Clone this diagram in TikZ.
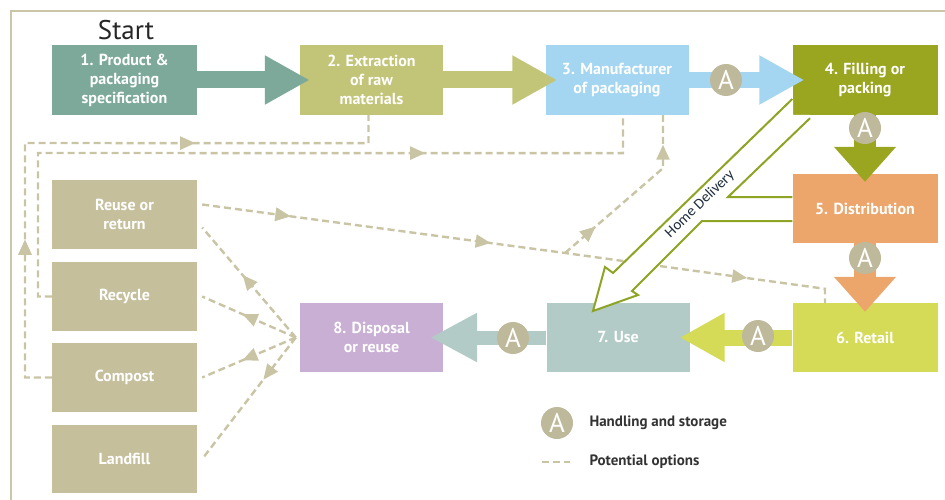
\documentclass[tikz,border=0pt]{standalone}
\usepackage{fontspec}
\setmainfont{PT Sans}
\newfontfamily\hdfont{Carlito}
\usetikzlibrary{arrows.meta,decorations.markings,calc}
\definecolor{cA}{HTML}{7DA99B}
\definecolor{cB}{HTML}{C2C477}
\definecolor{cC}{HTML}{A5D6F1}
\definecolor{cD}{HTML}{9AA520}
\definecolor{cE}{HTML}{ECA56B}
\definecolor{cF}{HTML}{D5DA57}
\definecolor{cG}{HTML}{B2CBC6}
\definecolor{cH}{HTML}{C8AFD3}
\definecolor{khaki}{HTML}{C5BF9C}
\definecolor{circ}{HTML}{BFB99B}
\definecolor{dashc}{HTML}{C9C4A4}
\definecolor{framec}{HTML}{CBC6A8}
\definecolor{hdgreen}{HTML}{8DA424}
\definecolor{hdtext}{HTML}{1F2D3D}
\definecolor{legtext}{HTML}{333333}
\begin{document}
\begin{tikzpicture}[x=1pt,y=-1pt,
  stagebox/.style={rectangle, minimum width=145pt, minimum height=70pt, inner sep=0pt,
    text=white, align=center, font=\bfseries\fontsize{16}{19}\selectfont},
  optbox/.style={stagebox, fill=khaki, minimum height=69pt},
  acirc/.style={circle, fill=circ, minimum size=32pt, inner sep=0pt, text=white,
    font=\fontsize{27}{27}\selectfont},
  fathor/.style={line width=17pt, -{Triangle[width=46pt,length=45pt]}},
  fatver/.style={line width=22pt, -{Triangle[width=60pt,length=35pt]}},
  dashline/.style={draw=dashc, line width=2.4pt, dash pattern=on 7pt off 4pt},
  mtip/.style={postaction={decorate}, decoration={markings,
    mark=at position #1 with {\arrow[dashc]{Triangle[length=15pt,width=13pt]}}}},
  hdline/.style={draw=hdgreen, line width=2pt, line join=miter},
  legtxt/.style={anchor=west, text=legtext, font=\bfseries\fontsize{15}{17}\selectfont},
]
\path[use as bounding box] (0,0) rectangle (945,500);
% frame
\draw[framec, line width=1.3pt] (11,500) -- (11,11) -- (945,11);
\node[font=\fontsize{27}{27}\selectfont, text=black!85] (start) at (126,30) {Start};

% boxes
\node[stagebox, fill=cA] (p1) at (124.5,80) {1. Product \&\\packaging\\specification};
\node[stagebox, fill=cB, minimum width=143pt] (p2) at (371.5,80) {2. Extraction\\of raw\\materials};
\node[stagebox, fill=cC, minimum width=143pt] (p3) at (617,80) {3. Manufacturer\\of packaging};
\node[stagebox, fill=cD] (p4) at (865,80) {4. Filling or\\packing};
\node[stagebox, fill=cE, minimum height=69pt] (p5) at (865,208.5) {5. Distribution};
\node[stagebox, fill=cF, minimum height=69pt] (p6) at (865,337.5) {6. Retail};
\node[stagebox, fill=cG, minimum width=143pt, minimum height=69pt] (p7) at (618,337.5) {7. Use};
\node[stagebox, fill=cH, minimum width=143pt, minimum height=69pt] (p8) at (371.5,337.5) {8. Disposal\\or reuse};
\node[optbox] (reuse) at (124.5,214.5) {Reuse or\\return};
\node[optbox] (recycle) at (124.5,296.5) {Recycle};
\node[optbox] (compost) at (124.5,377.5) {Compost};
\node[optbox, minimum height=68pt] (landfill) at (124.5,459) {Landfill};

% dashed potential options
\coordinate (hub) at ($(p8.west)+(-4,0)$);
\path[dashline, mtip=164.5pt, postaction={decorate, decoration={markings,
    mark=at position 431.5pt with {\arrow[dashc]{Triangle[length=15pt,width=13pt]}}}}]
  (compost.west) -- (25,377.5) -- (25,143) -- ($(p2.south)+(-3,28)$) -- ($(p2.south)+(-3,0)$);
\path[dashline, mtip=544.5pt]
  (recycle.west) -- (38,296.5) -- (38,153) -- ($(p3.south)+(6,38)$) -- ($(p3.south)+(6,0)$);
\coordinate (br) at (565,253);
\path[dashline, mtip=89pt, postaction={decorate, decoration={markings,
    mark=at position 291pt with {\arrow[dashc]{Triangle[length=15pt,width=13pt]}},
    mark=at position 550pt with {\arrow[dashc]{Triangle[length=15pt,width=13pt]}}}}]
  ($(reuse.east)+(5,-10)$) -- (br) -- ($(p6.north)+(-40,-14)$) -- ($(p6.north)+(-40,0)$);
\path[dashline, mtip=40pt, postaction={decorate, decoration={markings,
    mark=at position 153pt with {\arrow[dashc]{Triangle[length=15pt,width=13pt]}}}}]
  (br) -- ($(p3.south)+(46,53)$) -- ($(p3.south)+(46,0)$);
\path[dashline, mtip=82pt] (hub) -- ($(reuse.east)+(5,13)$);
\path[dashline, mtip=58pt] (hub) -- ($(recycle.east)+(5,0)$);
\path[dashline, mtip=58pt] (hub) -- ($(compost.east)+(5,0)$);
\path[dashline, mtip=53pt] (hub) -- ($(landfill.east)+(5,0)$);

% home delivery arrow
\fill[white] (793,99) -- (613,273) -- (605,267) -- (593,311) -- (638,295) -- (632,291)
  -- (702,221) -- (793,221) -- (793,197) -- (728,197) -- (810,115) -- (793,115) -- cycle;
\draw[hdline] ($(p4.west)+(0,19)$) -- (613,273) -- (605,267) -- (593,311) -- (638,295)
  -- (632,291) -- (702,221) -- ($(p5.west)+(0,12.5)$);
\draw[hdline] ($(p4.south)+(-55,3)$) -- (728,197) -- ($(p5.west)+(0,-11.5)$);
\node[rotate=44, text=hdtext, font=\hdfont\fontsize{15}{15}\selectfont] (hd) at (700,204) {Home Delivery};

% main fat arrows
\draw[fathor, cA] (p1.east) -- ($(p2.west)+(10,0)$);
\draw[fathor, cB] (p2.east) -- ($(p3.west)+(12,0)$);
\draw[fathor, cC, line width=16pt] (p3.east) -- ($(p4.west)+(12,0)$);
\node[acirc] (a34) at (726,80) {A};
\draw[fatver, cD] (p4.south) -- ($(p5.north)+(0,8)$);
\node[acirc] (a45) at (865,128) {A};
\draw[fatver, cE] (p5.south) -- ($(p6.north)+(0,9)$);
\node[acirc] (a56) at (865,258) {A};
\draw[fathor, cF, line width=16pt] (p6.west) -- ($(p7.east)+(-10,0)$);
\node[acirc] (a67) at (758,336) {A};
\draw[fathor, cG, line width=14pt, -{Triangle[width=46pt,length=47pt]}] (p7.west) -- ($(p8.east)+(-13,0)$);
\node[acirc] (a78) at (513,338) {A};

% legend
\node[acirc] (lega) at (557,423) {A};
\node[legtxt] (legt1) at (586,423) {Handling and storage};
\coordinate (ld1) at (542,462);
\coordinate (ld2) at (570,462);
\draw[dashline] (ld1) -- (ld2);
\node[legtxt] (legt2) at (586,462) {Potential options};
\end{tikzpicture}
\end{document}
